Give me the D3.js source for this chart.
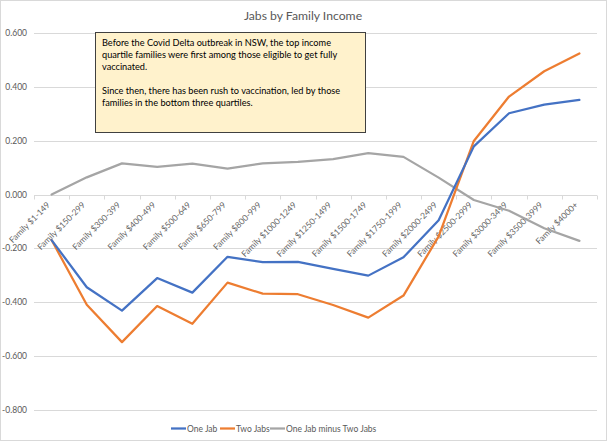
<!DOCTYPE html>
<html><head><meta charset="utf-8">
<script src="https://cdn.jsdelivr.net/npm/d3@7"></script>
<style>body{margin:0;background:#fff}svg{display:block;font-family:Lato,"Open Sans",sans-serif}</style>
</head><body><svg id="c" width="607" height="441"></svg>
<script>
const categories = ["Family $1-149","Family $150-299","Family $300-399","Family $400-499","Family $500-649","Family $650-799","Family $800-999","Family $1000-1249","Family $1250-1499","Family $1500-1749","Family $1750-1999","Family $2000-2499","Family $2500-2999","Family $3000-3499","Family $3500-3999","Family $4000+"];
const oneJab = [-0.169,-0.344,-0.431,-0.310,-0.364,-0.231,-0.251,-0.250,-0.276,-0.301,-0.233,-0.095,0.179,0.302,0.334,0.352];
const twoJabs = [-0.169,-0.409,-0.548,-0.414,-0.480,-0.327,-0.368,-0.370,-0.410,-0.457,-0.375,-0.155,0.199,0.364,0.458,0.524];
const diff = [0.000,0.064,0.116,0.103,0.115,0.096,0.116,0.121,0.132,0.154,0.140,0.063,-0.020,-0.060,-0.125,-0.172];
const yTicks = [0.6,0.4,0.2,0,-0.2,-0.4,-0.6,-0.8];
const seriesNames = ["One Jab","Two Jabs","One Jab minus Two Jabs"];
const noteLines = ["Before the Covid Delta outbreak in NSW, the top income","quartile families were first among those eligible to get fully","vaccinated.","","Since then, there has been rush to vaccination, led by those","families in the bottom three quartiles."];
const title = "Jabs by Family Income";

const svg = d3.select("#c");
const W=607,H=441;
svg.append("rect").attr("x",0.5).attr("y",0.5).attr("width",W-1).attr("height",H-1).attr("fill","#fff").attr("stroke","#D9D9D9");

const L=34,R=597;
const x = d3.scaleBand().domain(categories).range([L,R]);
const y = d3.scaleLinear().domain([-0.8,0.6]).range([410,33]);

svg.append("text").attr("x",303).attr("y",20).attr("text-anchor","middle").attr("fill","#595959").attr("font-size",12.2).text(title);

// grid
svg.append("g").selectAll("line").data(yTicks).join("line")
  .attr("x1",L).attr("x2",R).attr("y1",d=>Math.round(y(d))+0.5).attr("y2",d=>Math.round(y(d))+0.5)
  .attr("stroke","#D9D9D9").attr("stroke-width",1);

// y labels
svg.append("g").selectAll("text").data(yTicks).join("text")
  .attr("x",27).attr("y",d=>y(d)+3).attr("text-anchor","end").attr("fill","#595959").attr("font-size",8.5)
  .text(d=>d3.format(".3f")(d).replace("−","-"));

// x axis ticks on zero line
const y0 = Math.round(y(0))+0.5;
const tickXs = categories.map(c=>x(c)).concat([R]);
svg.append("g").selectAll("line").data(tickXs).join("line")
  .attr("x1",d=>Math.round(d)+0.5).attr("x2",d=>Math.round(d)+0.5).attr("y1",y0).attr("y2",y0+4)
  .attr("stroke","#D9D9D9");

// x labels
svg.append("g").selectAll("text").data(categories).join("text")
  .attr("transform",d=>`translate(${x(d)+x.bandwidth()/2-1},${y(0)+11}) rotate(-45)`)
  .attr("text-anchor","end").attr("fill","#666").attr("font-size",8.5).text(d=>d);

const cx = (d,i)=>x(categories[i])+x.bandwidth()/2;
const line = d3.line().x((d,i)=>cx(d,i)).y(d=>y(d));
const series = [[oneJab,"#4472C4"],[twoJabs,"#ED7D31"],[diff,"#A5A5A5"]];
series.slice().reverse().forEach(([vals,col])=>{
  svg.append("path").datum(vals).attr("d",line).attr("fill","none").attr("stroke",col)
    .attr("stroke-width",2.25).attr("stroke-linejoin","round").attr("stroke-linecap","round");
});

// note box
svg.append("rect").attr("x",95.5).attr("y",32.5).attr("width",270).attr("height",100)
  .attr("fill","#FFF2CC").attr("stroke","#404040").attr("stroke-width",1);
svg.append("g").selectAll("text").data(noteLines).join("text")
  .attr("x",102).attr("y",(d,i)=>46+i*12).attr("fill","#000").attr("font-size",9.2).text(d=>d);

// legend
const legX=[171,220,270];
const lg = svg.append("g");
seriesNames.forEach((n,i)=>{
  lg.append("line").attr("x1",legX[i]).attr("x2",legX[i]+15).attr("y1",428.5).attr("y2",428.5)
    .attr("stroke",series[i][1]).attr("stroke-width",2.25);
  lg.append("text").attr("x",legX[i]+16).attr("y",431.5).attr("fill","#595959").attr("font-size",8.5).text(n);
});
</script></body></html>
